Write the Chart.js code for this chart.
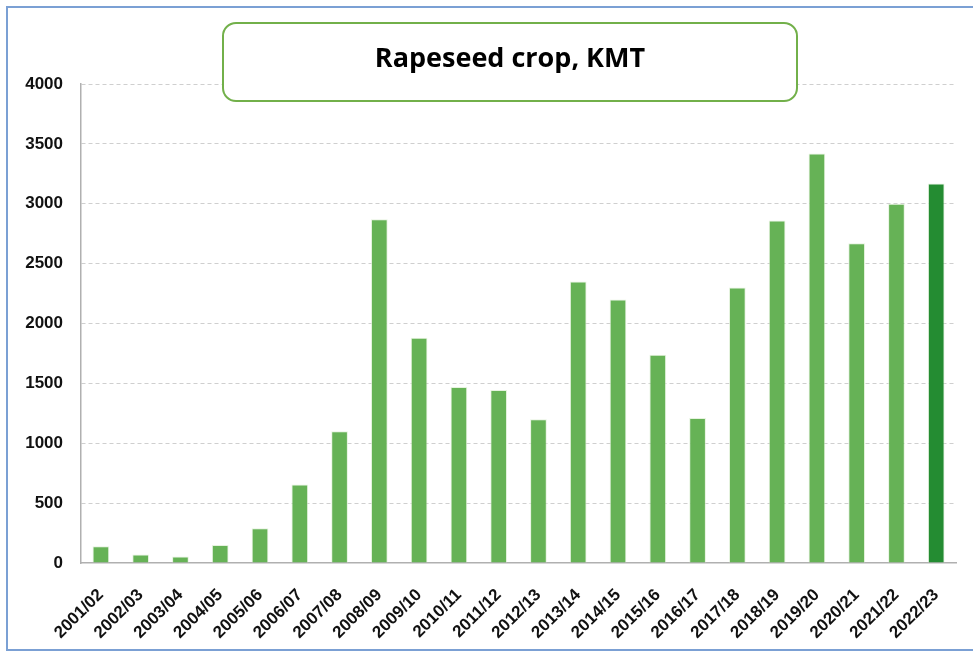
<!DOCTYPE html>
<html>
<head>
<meta charset="utf-8">
<script src="https://cdn.jsdelivr.net/npm/chart.js@4/dist/chart.umd.min.js"></script>
<style>
  html, body { margin: 0; padding: 0; background: #fff; }
  #wrap { position: relative; width: 973px; height: 652px; overflow: hidden; }
  #frame { position: absolute; left: 6px; top: 6px; width: 980px; height: 645px; border: 2px solid #7ba0d4; box-sizing: border-box; }
  canvas { position: absolute; left: 0; top: 0; }
</style>
</head>
<body>
<div id="wrap">
  <div id="frame"></div>
  <canvas id="cropChart" width="973" height="652"></canvas>
</div>
<script>
// season labels and crop in thousand metric tons
const seasons = ['2001/02', '2002/03', '2003/04', '2004/05', '2005/06', '2006/07', '2007/08', '2008/09',
  '2009/10', '2010/11', '2011/12', '2012/13', '2013/14', '2014/15', '2015/16', '2016/17', '2017/18',
  '2018/19', '2019/20', '2020/21', '2021/22', '2022/23'];
const cropKmt = [140, 70, 55, 150, 290, 655, 1100, 2870, 1880, 1470, 1445, 1200, 2350, 2200, 1740, 1210,
  2300, 2860, 3420, 2670, 3000, 3170];
const yTicks = [0, 500, 1000, 1500, 2000, 2500, 3000, 3500, 4000];
const titleText = 'Rapeseed crop, KMT';

// last season is the forecast, darker green
const barColors = seasons.map((s, i) => i === seasons.length - 1 ? '#248c32' : '#66b256');

// rounded title box sitting on top of the plot
const titleBox = {
  id: 'titleBox',
  afterDraw(chart) {
    const ctx = chart.ctx;
    const x = 223, y = 23, w = 574, h = 78, r = 13;
    ctx.save();
    ctx.beginPath();
    ctx.roundRect(x, y, w, h, r);
    ctx.fillStyle = '#fff';
    ctx.fill();
    ctx.lineWidth = 2;
    ctx.strokeStyle = '#72b04a';
    ctx.stroke();
    ctx.fillStyle = '#000';
    ctx.font = 'bold 27px "Open Sans"';
    ctx.textAlign = 'center';
    ctx.textBaseline = 'middle';
    ctx.fillText(titleText, x + w / 2, y + h / 2 - 3);
    ctx.restore();
  }
};

const tickFont = { family: '"Liberation Sans", Arial', size: 17, weight: 'bold' };

new Chart(document.getElementById('cropChart'), {
  type: 'bar',
  data: {
    labels: seasons,
    datasets: [{
      data: cropKmt,
      backgroundColor: barColors,
      borderColor: 'rgba(220,238,210,0.7)',
      borderWidth: 1,
      barPercentage: 0.42,
      categoryPercentage: 1
    }]
  },
  options: {
    responsive: false,
    animation: false,
    layout: { padding: { top: 84, right: 15, left: 0, bottom: 0 } },
    plugins: {
      legend: { display: false },
      title: { display: false },
      tooltip: { enabled: false }
    },
    scales: {
      x: {
        grid: { display: false, drawTicks: false },
        border: { color: '#b0b0b0', width: 1.5 },
        ticks: {
          color: '#111',
          font: tickFont,
          minRotation: 45,
          maxRotation: 45,
          padding: 22,
          autoSkip: false
        },
        afterFit(scale) { scale.height = 89; }
      },
      y: {
        min: 0,
        max: 4000,
        afterBuildTicks(scale) { scale.ticks = yTicks.map(v => ({ value: v })); },
        grid: {
          color: ctx => ctx.tick && ctx.tick.value === 0 ? 'rgba(0,0,0,0)' : '#cfcfcf',
          drawTicks: false
        },
        border: { color: '#b0b0b0', width: 1.5, dash: [4, 3] },
        ticks: {
          color: '#111',
          font: tickFont,
          padding: 18,
          callback: v => String(v)
        },
        afterFit(scale) { scale.width = 81; }
      }
    }
  },
  plugins: [titleBox]
});
</script>
</body>
</html>
